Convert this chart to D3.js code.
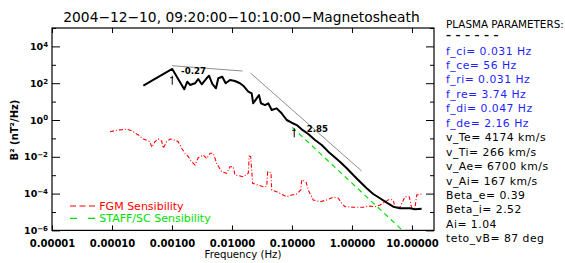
<!DOCTYPE html>
<html>
<head>
<meta charset="utf-8">
<script src="https://cdn.jsdelivr.net/npm/d3@7"></script>
<style>
  body { margin: 0; background: #fff; }
  svg { display: block; }
  text { font-family: "DejaVu Sans", sans-serif; }
</style>
</head>
<body>
<svg id="chart"></svg>
<script>
// measured spectrum (black)
const specFreq = [3.33e-4, 1.01e-3, 1.60e-3, 1.80e-3, 2.0e-3, 2.42e-3, 2.74e-3, 3.13e-3, 3.69e-3, 4.14e-3,
  4.70e-3, 5.41e-3, 5.91e-3, 6.89e-3, 7.85e-3, 9.26e-3, 0.0112, 0.0136, 0.0154, 0.0187,
  0.0213, 0.0226, 0.0258, 0.0282, 0.0304, 0.0355, 0.0403, 0.0459, 0.0556, 0.0673,
  0.0817, 0.0989, 0.120, 0.145, 0.187, 0.242, 0.313, 0.403, 0.488, 0.63,
  0.82, 1.05, 1.36, 1.76, 2.26, 2.93, 3.79, 4.88, 6.31, 9.26, 11.2, 14.5];
const specPow = [73, 592, 46.6, 121, 80, 99, 169, 87, 169, 256,
  91, 53, 185, 225, 99, 149, 132, 99, 73, 34.5,
  28, 8.1, 15.1, 22.9, 8.1, 6.5, 8.1, 3.5, 4.3, 2.31,
  1.0, 0.71, 0.53, 0.31, 0.173, 0.082, 0.044, 0.019, 0.011, 5.4e-3,
  2.37e-3, 1.03e-3, 4.4e-4, 1.94e-4, 9.5e-5, 5.6e-5, 3.2e-5, 1.94e-5, 1.59e-5, 1.59e-5, 1.4e-5, 1.5e-5];

// FGM sensibility (red)
const fgmFreq = [9.27e-5, 1.27e-4, 1.76e-4, 2.13e-4, 2.74e-4, 3.33e-4, 4.30e-4, 4.59e-4, 5.21e-4, 5.91e-4,
  6.73e-4, 7.16e-4, 8.17e-4, 9.27e-4, 1.12e-3, 1.27e-3, 1.45e-3, 1.65e-3, 1.87e-3, 2.13e-3,
  2.42e-3, 2.74e-3, 3.33e-3, 3.79e-3, 4.30e-3, 4.88e-3, 5.56e-3, 6.73e-3, 8.17e-3, 9.27e-3,
  0.0105, 0.0112, 0.0136, 0.0154, 0.0187, 0.0194, 0.0205, 0.0221, 0.0274, 0.0333,
  0.0379, 0.0394, 0.0447, 0.0459, 0.0556, 0.0673, 0.0817, 0.0989, 0.120, 0.140,
  0.145, 0.171, 0.187, 0.226, 0.293, 0.379, 0.488, 0.592, 0.673, 0.764,
  1.05, 1.54, 1.87, 2.42, 2.93, 4.19, 4.88, 5.21, 6.31, 7.64,
  9.02, 9.89, 11.2, 12.0, 14.5];
const fgmPow = [0.231, 0.286, 0.313, 0.262, 0.153, 0.093, 0.066, 0.033, 0.066, 0.093,
  0.072, 0.029, 0.066, 0.093, 0.082, 0.066, 0.029, 0.0155, 0.0101, 5.4e-3,
  3.6e-3, 8.9e-3, 0.0125, 8.0e-3, 0.0155, 0.0155, 4.4e-3, 1.55e-3, 1.27e-3, 2.9e-3,
  2.9e-3, 1.03e-3, 9.1e-4, 8.3e-4, 1.27e-3, 0.011, 0.0101, 3.6e-4, 2.9e-4, 2.37e-4,
  2.5e-4, 1.55e-3, 1.37e-3, 1.57e-4, 1.27e-4, 9.2e-5, 6.8e-5, 8.4e-5, 9.5e-5, 1.57e-4,
  5.5e-4, 4.4e-4, 1.57e-4, 4.5e-5, 3.6e-5, 4.5e-5, 6.3e-5, 5.6e-5, 3.0e-5, 1.94e-5,
  1.8e-5, 1.8e-5, 2.1e-5, 1.94e-5, 2.4e-5, 4.9e-5, 4.5e-5, 1.8e-5, 1.8e-5, 6.8e-5,
  6.8e-5, 1.59e-5, 1.59e-5, 8.4e-5, 9.5e-5];

// STAFF/SC sensibility (green)
const staffFreq = [0.101, 20];
const staffPow = [0.40, 4e-8];

// power-law fits (grey) and break markers
const fitFreq = [[1.0e-3, 0.015], [0.0203, 1.45]];
const fitPow = [[893, 460], [358, 1.69e-3]];
const breakFreq = [1.01e-3, 0.109];
const breakPow = [256, 0.354];
const breakLabel = ['-0.27', '2.85'];
const labelFreq = [1.42e-3, 0.176];
const labelPow = [300, 0.21];

const xTicks = [1e-5, 1e-4, 1e-3, 1e-2, 1e-1, 1, 10];
const yMajor = [1e-6, 1e-4, 1e-2, 1, 1e2, 1e4];
const yMinor = [1e-5, 1e-3, 1e-1, 1e1, 1e3, 1e5];

const paramBlue = ['f_ci= 0.031 Hz', 'f_ce= 56 Hz', 'f_ri= 0.031 Hz', 'f_re= 3.74 Hz', 'f_di= 0.047 Hz', 'f_de= 2.16 Hz'];
const paramBlack = ['v_Te= 4174 km/s', 'v_Ti= 266 km/s', 'v_Ae= 6700 km/s', 'v_Ai= 167 km/s',
  'Beta_e= 0.39', 'Beta_i= 2.52', 'Ai= 1.04', 'teto_vB= 87 deg'];

const W = 565, H = 263;
const m = { left: 52, right: 434, top: 28, bottom: 230.4 };

const svg = d3.select('#chart').attr('width', W).attr('height', H);

const x = d3.scaleLog().domain([1e-5, 23.3]).range([m.left, m.right]);
const y = d3.scaleLog().domain([1e-6, 1e5]).range([m.bottom, m.top]);

svg.append('defs').append('clipPath').attr('id', 'plot-clip')
  .append('rect')
  .attr('x', m.left).attr('y', m.top)
  .attr('width', m.right - m.left).attr('height', m.bottom - m.top);

// title
svg.append('text')
  .attr('x', 241.5).attr('y', 21.5)
  .attr('text-anchor', 'middle')
  .attr('font-size', 13.8)
  .text('2004\u221212\u221210, 09:20:00\u221210:10:00\u2212Magnetosheath');

// axes
const xb = svg.append('g').attr('transform', `translate(0,${m.bottom})`)
  .call(d3.axisBottom(x).tickValues(xTicks).tickSize(-5).tickSizeOuter(0)
    .tickPadding(10).tickFormat(d3.format('.5f')));
svg.append('g').attr('transform', `translate(0,${m.top})`)
  .call(d3.axisTop(x).tickValues(xTicks).tickSize(-5).tickSizeOuter(0).tickFormat(''));

const yl = svg.append('g').attr('transform', `translate(${m.left},0)`)
  .call(d3.axisLeft(y).tickValues(yMajor).tickSize(-8).tickSizeOuter(0).tickPadding(4));
svg.append('g').attr('transform', `translate(${m.left},0)`)
  .call(d3.axisLeft(y).tickValues(yMinor).tickSize(-4).tickSizeOuter(0).tickFormat(''));
svg.append('g').attr('transform', `translate(${m.right},0)`)
  .call(d3.axisRight(y).tickValues(yMajor).tickSize(-8).tickSizeOuter(0).tickFormat(''));
svg.append('g').attr('transform', `translate(${m.right},0)`)
  .call(d3.axisRight(y).tickValues(yMinor).tickSize(-4).tickSizeOuter(0).tickFormat(''));

svg.selectAll('.domain').remove();
svg.selectAll('.tick line').attr('stroke', '#000');

xb.selectAll('.tick text')
  .attr('font-family', '"Liberation Sans", Arial, sans-serif')
  .attr('font-weight', 'bold')
  .attr('font-size', 10);

// y labels 10^n with superscript
yl.selectAll('.tick text').each(function (d) {
  const t = d3.select(this)
    .attr('font-family', '"Liberation Sans", Arial, sans-serif')
    .attr('font-weight', 'bold')
    .attr('font-size', 9.5);
  t.text(null);
  t.append('tspan').text('10');
  t.append('tspan').attr('dy', '-0.45em').attr('font-size', 7)
    .text(String(Math.round(Math.log10(d))).replace('-', '\u2212'));
});

// frame
svg.append('rect')
  .attr('x', m.left).attr('y', m.top)
  .attr('width', m.right - m.left).attr('height', m.bottom - m.top)
  .attr('fill', 'none').attr('stroke', '#000').attr('stroke-width', 1.2);

// axis titles
svg.append('text')
  .attr('x', 243).attr('y', 257.5)
  .attr('text-anchor', 'middle')
  .attr('font-size', 10.2)
  .text('Frequency (Hz)');

svg.append('text')
  .attr('transform', 'translate(18,130) rotate(-90)')
  .attr('text-anchor', 'middle')
  .attr('font-family', '"Liberation Sans", Arial, sans-serif')
  .attr('font-weight', 'bold')
  .attr('font-size', 10)
  .text('B\u00b2 (nT\u00b2/Hz)');

// curves
const plot = svg.append('g').attr('clip-path', 'url(#plot-clip)');
const line = d3.line().x(d => x(d[0])).y(d => y(d[1]));

plot.append('path')
  .datum(d3.zip(fgmFreq, fgmPow))
  .attr('d', line)
  .attr('fill', 'none').attr('stroke', '#ff0000').attr('stroke-width', 1.1)
  .attr('stroke-dasharray', '4,2,1,2');

plot.append('path')
  .datum(d3.zip(staffFreq, staffPow))
  .attr('d', line)
  .attr('fill', 'none').attr('stroke', '#00e000').attr('stroke-width', 1.2)
  .attr('stroke-dasharray', '5,4');

fitFreq.forEach((f, i) => {
  plot.append('path')
    .datum(d3.zip(f, fitPow[i]))
    .attr('d', line)
    .attr('fill', 'none').attr('stroke', '#808080').attr('stroke-width', 0.9);
});

plot.append('path')
  .datum(d3.zip(specFreq, specPow))
  .attr('d', line)
  .attr('fill', 'none').attr('stroke', '#000').attr('stroke-width', 2)
  .attr('stroke-linejoin', 'round');

// break markers
breakFreq.forEach((f, i) => {
  const bx = x(f), by = y(breakPow[i]);
  svg.append('path')
    .attr('d', `M${bx},${by + 9}V${by}M${bx - 2},${by + 2}H${bx + 1}`)
    .attr('fill', 'none').attr('stroke', '#000').attr('stroke-width', 1);
  svg.append('text')
    .attr('x', x(labelFreq[i])).attr('y', y(labelPow[i]))
    .attr('font-family', '"Liberation Sans", Arial, sans-serif')
    .attr('font-weight', 'bold')
    .attr('font-size', 8.6)
    .text(breakLabel[i]);
});

// legend
const legend = [
  { label: 'FGM Sensibility', color: '#ff0000', dash: '6,3.5', y: 206 },
  { label: 'STAFF/SC Sensibility', color: '#00e000', dash: '7,11', y: 218.3 }
];
legend.forEach(l => {
  svg.append('line')
    .attr('x1', 70).attr('x2', 95).attr('y1', l.y).attr('y2', l.y)
    .attr('stroke', l.color).attr('stroke-width', 1.2)
    .attr('stroke-dasharray', l.dash);
  svg.append('text')
    .attr('x', 99.3).attr('y', l.y + 3.5)
    .attr('font-size', 11)
    .attr('fill', l.color)
    .text(l.label);
});

// plasma parameters panel
const px = 446, py0 = 54.5, step = 14.45;
svg.append('text')
  .attr('x', px).attr('y', 27.5)
  .attr('font-size', 10.4)
  .text('PLASMA PARAMETERS:');
svg.append('text')
  .attr('x', px).attr('y', 38.5)
  .attr('font-size', 10)
  .attr('font-weight', 'bold')
  .attr('letter-spacing', 4.5)
  .text('\u2013\u2013\u2013\u2013\u2013\u2013');
paramBlue.concat(paramBlack).forEach((s, i) => {
  svg.append('text')
    .attr('x', px).attr('y', py0 + i * step)
    .attr('font-size', 10.8)
    .attr('letter-spacing', 0.5)
    .attr('fill', i < paramBlue.length ? '#1e1eff' : '#000')
    .text(s);
});
</script>
</body>
</html>
